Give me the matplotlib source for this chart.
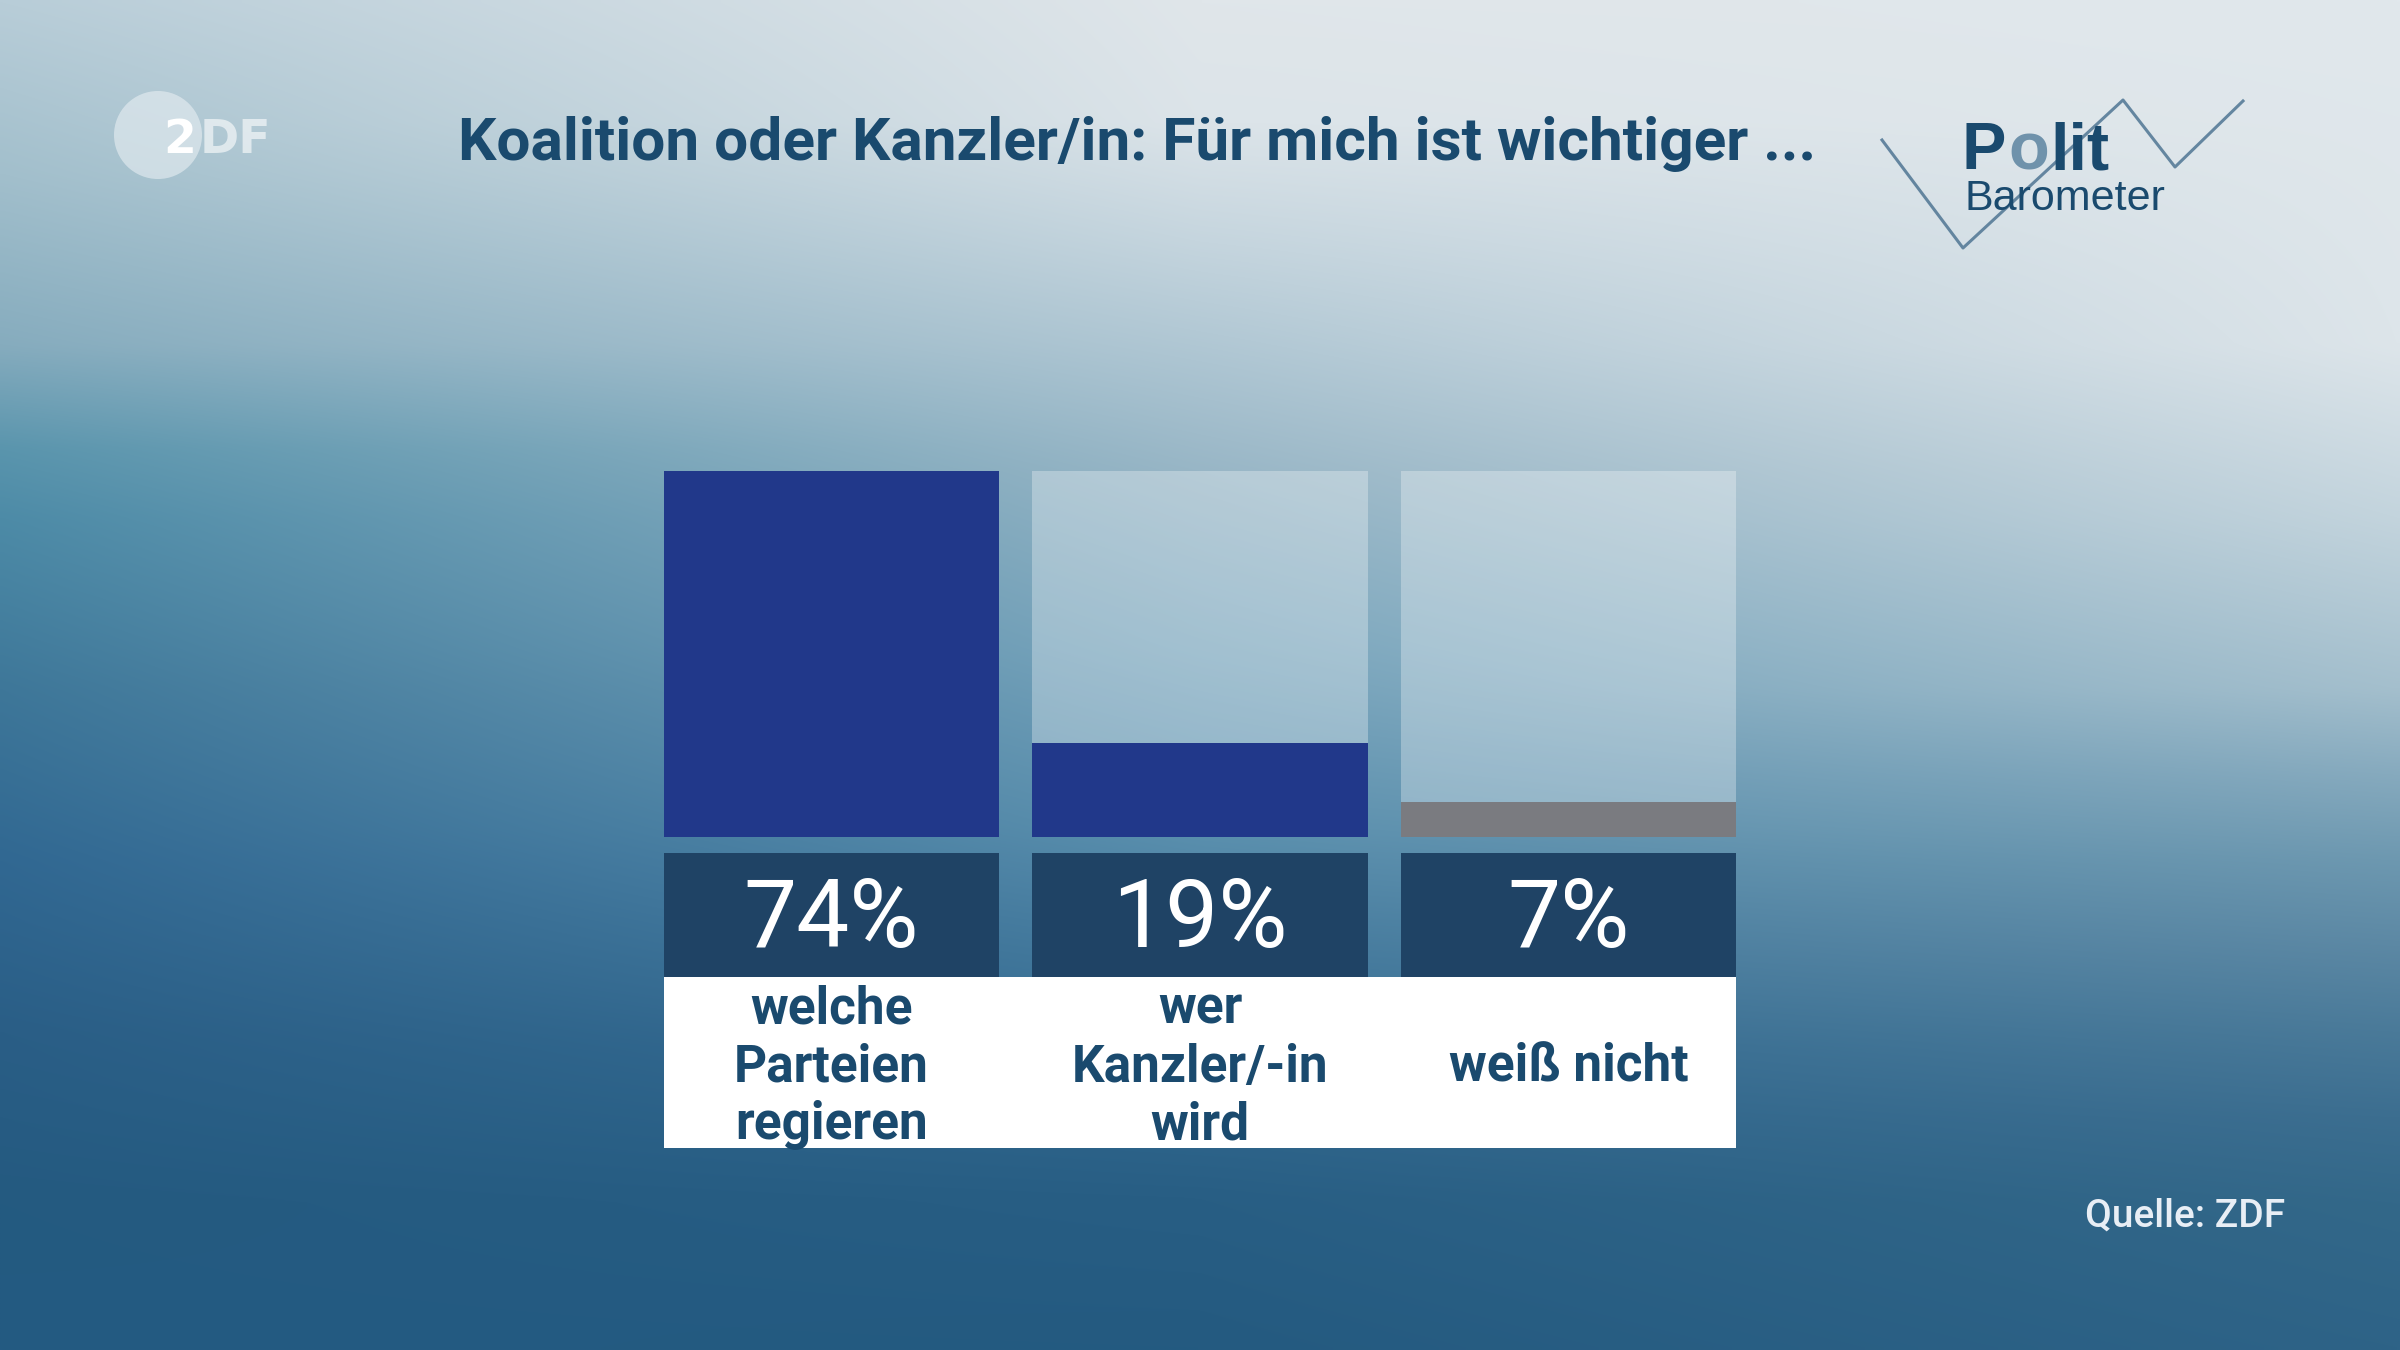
import numpy as np
import matplotlib
matplotlib.use('Agg')
import matplotlib.pyplot as plt
from matplotlib.colors import to_rgb
from matplotlib.patches import Circle

plt.rcParams['font.family'] = ['Roboto', 'DejaVu Sans']

# данные
title = 'Koalition oder Kanzler/in: Für mich ist wichtiger ...'
categories = ['welche\nParteien\nregieren', 'wer\nKanzler/-in\nwird', 'weiß nicht']
values = [74, 19, 7]
bar_colors = ['#21388a', '#21388a', '#7a7b80']
source = 'Quelle: ZDF'

W, H = 2400, 1350
fig = plt.figure(figsize=(24, 13.5), dpi=100)

# фон: цвета по вертикали для левого края, середины и правого края
bg_left = [(0, '#b8cdd8'), (172, '#a2bfcc'), (344, '#86acbe'), (448, '#5a95ad'), (517, '#4d8ba7'),
           (689, '#3e7799'), (861, '#316892'), (1033, '#2a5e86'), (1205, '#245a80'), (1350, '#235a82')]
bg_mid = [(0, '#e0e6ea'), (120, '#dce4e9'), (240, '#c5d5de'), (360, '#adc5d2'), (470, '#98b6c6'),
          (650, '#7aa6bd'), (830, '#5b90ae'), (920, '#4a80a2'), (1050, '#356c92'), (1200, '#285e84'),
          (1350, '#245a80')]
bg_right = [(0, '#e1e8ec'), (344, '#dde5ea'), (517, '#c3d4dd'), (689, '#a4bfcd'), (775, '#86aabe'),
            (861, '#6d98b0'), (947, '#5c88a4'), (1033, '#4a7a99'), (1119, '#3c6e90'), (1205, '#336889'),
            (1350, '#2e6387')]


def column(stops, ys):
    yk = [p for p, _ in stops]
    ck = np.array([to_rgb(c) for _, c in stops])
    return np.stack([np.interp(ys, yk, ck[:, k]) for k in range(3)], axis=1)


ys = np.linspace(0, H, 270)
xs = np.linspace(0, W, 480)
cols = [column(bg_left, ys), column(bg_mid, ys), column(bg_right, ys)]
img = np.empty((len(ys), len(xs), 3))
for k in range(3):
    stack = np.stack([c[:, k] for c in cols], axis=1)
    for i in range(len(ys)):
        img[i, :, k] = np.interp(xs, [0, W / 2, W], stack[i])

bg = fig.add_axes([0, 0, 1, 1])
bg.imshow(img, extent=[0, W, H, 0], aspect='auto', interpolation='bilinear')
bg.set_xlim(0, W)
bg.set_ylim(H, 0)
bg.axis('off')

# логотип ZDF
bg.add_patch(Circle((158, 135), 44, color='#e8eff3', alpha=0.6, lw=0))
bg.text(163, 153, '2', color='white', fontsize=34, fontweight='bold', va='baseline', ha='left',
        family='DejaVu Sans')
bg.text(200, 153, 'DF', color='white', fontsize=34, fontweight='bold', va='baseline', ha='left',
        family='DejaVu Sans', alpha=0.6)

# заголовок
bg.text(458, 160, title, color='#1a4a6e', fontsize=43.5, fontweight='bold', va='baseline', ha='left')

# логотип Politbarometer
bg.plot([1882, 1963, 2123, 2175, 2243], [140, 248, 100, 167, 101], color='#4f7593', lw=2.2, alpha=0.85)
logo = dict(fontsize=48, fontweight='bold', va='baseline', ha='left', family='Liberation Sans')
bg.text(1962, 169, 'P', color='#1a4a6e', **logo)
bg.text(2008, 169, 'o', color='#6f92ab', **logo)
bg.text(2050, 169, 'lit', color='#1a4a6e', **logo)
bg.text(1965, 210, 'Barometer', color='#1a4a6e', fontsize=31, va='baseline', ha='left',
        family='Liberation Sans')

# источник
bg.text(2285, 1227, source, color='#e8eef5', fontsize=28, fontweight='medium', va='baseline', ha='right')

x = np.arange(len(values))
left, right = 664 / W, 1736 / W


def axes_px(top, bottom):
    return fig.add_axes([left, 1 - bottom / H, right - left, (bottom - top) / H])


# столбцы
ax = axes_px(471, 837)
ax.bar(x, [max(values)] * len(values), width=0.91, color='white', alpha=0.3, lw=0)
ax.bar(x, values, width=0.91, color=bar_colors, lw=0)
ax.set_xlim(-0.455, len(values) - 0.545)
ax.set_ylim(0, max(values))
ax.axis('off')

# подписи значений
axv = axes_px(853, 977)
axv.bar(x, [1] * len(values), width=0.91, color='#1f4365', lw=0)
for i, v in enumerate(values):
    axv.text(i, 0.45, f'{v}%', color='white', fontsize=68, ha='center', va='center')
axv.set_xlim(-0.455, len(values) - 0.545)
axv.set_ylim(0, 1)
axv.axis('off')

# категории
axl = axes_px(977, 1148)
axl.bar([1], [1], width=3, color='white', lw=0)
for i, c in enumerate(categories):
    axl.text(i, 0.47, c, color='#1a4a6e', fontsize=37, fontweight='bold', ha='center', va='center',
             linespacing=1.2)
axl.set_xlim(-0.455, len(values) - 0.545)
axl.set_ylim(0, 1)
axl.axis('off')

fig.savefig('out.png', dpi=100)
